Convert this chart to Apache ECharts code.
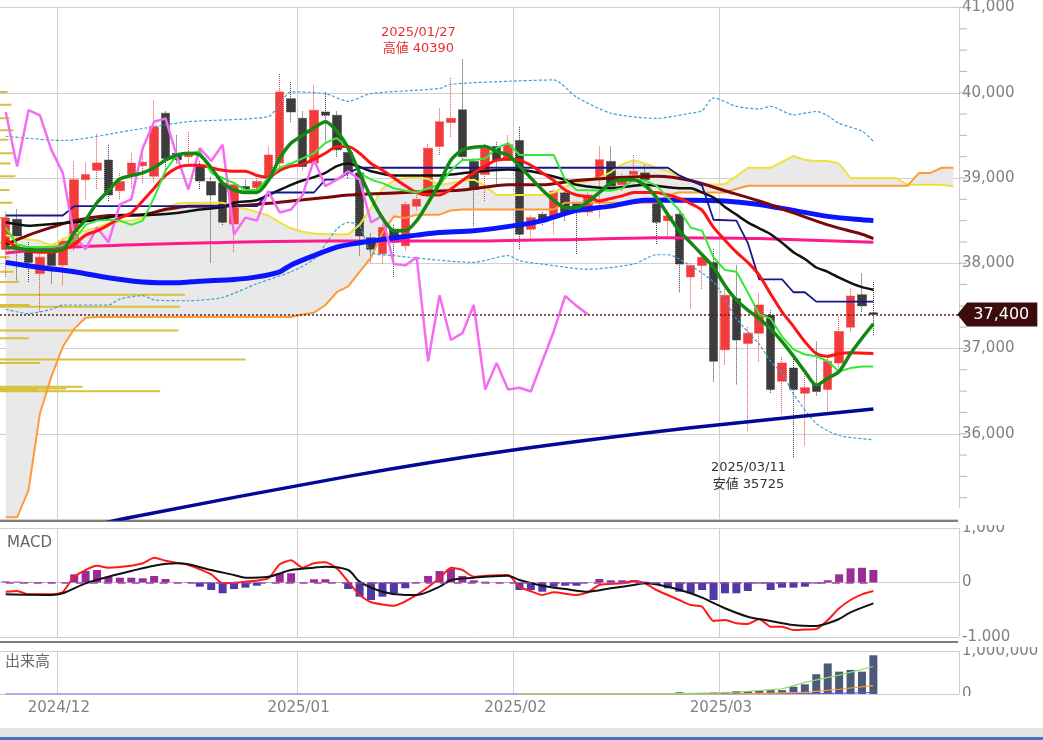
<!DOCTYPE html>
<html><head><meta charset="utf-8">
<script src="https://cdn.jsdelivr.net/npm/echarts@6/dist/echarts.min.js"></script>
<style>html,body{margin:0;padding:0;background:#fff;overflow:hidden}#c{width:1043px;height:740px}</style>
</head><body><div id="c"></div>
<script>
// ---------- categories ----------
const dates = ["2024/11/25","2024/11/26","2024/11/27","2024/11/28","2024/11/29",
"2024/12/02","2024/12/03","2024/12/04","2024/12/05","2024/12/06","2024/12/09","2024/12/10","2024/12/11","2024/12/12","2024/12/13","2024/12/16","2024/12/17","2024/12/18","2024/12/19","2024/12/20","2024/12/23","2024/12/24","2024/12/25","2024/12/26","2024/12/27","2024/12/30",
"2025/01/06","2025/01/07","2025/01/08","2025/01/09","2025/01/10","2025/01/14","2025/01/15","2025/01/16","2025/01/17","2025/01/20","2025/01/21","2025/01/22","2025/01/23","2025/01/24","2025/01/27","2025/01/28","2025/01/29","2025/01/30","2025/01/31",
"2025/02/03","2025/02/04","2025/02/05","2025/02/06","2025/02/07","2025/02/10","2025/02/12","2025/02/13","2025/02/14","2025/02/17","2025/02/18","2025/02/19","2025/02/20","2025/02/21","2025/02/25","2025/02/26","2025/02/27","2025/02/28",
"2025/03/03","2025/03/04","2025/03/05","2025/03/06","2025/03/07","2025/03/10","2025/03/11","2025/03/12","2025/03/13","2025/03/14","2025/03/17","2025/03/18","2025/03/19","2025/03/21",
"2025/03/24","2025/03/25","2025/03/26","2025/03/27","2025/03/28","2025/03/31","2025/04/01"];
const monthStarts = [5, 26, 45, 63];
// fine price-scale tick marks (every 250)
const priceTicks = [35000,35250,35500,35750,36000,36250,36500,36750,37000,37250,37500,37750,38000,38250,38500,38750,39000,39250,39500,39750,40000,40250,40500,40750,41000];

// ---------- candles ----------
const opens  = [38160,38515,38170,37880,38150,37980,38220,38980,39090,39210,38850,39040,39145,39020,39760,39290,39250,39140,38960,38940,38460,38900,38885,39000,39175,39930,39700,39175,39775,39735,39300,39060,38300,38110,38400,38205,38670,38805,39370,39650,39800,39195,39040,39370,39230,39440,38400,38575,38555,38825,38700,38600,38980,39195,38920,39040,39060,38710,38500,38575,37840,37975,38010,36985,37585,37060,37180,37390,36615,36770,36475,36580,36520,36830,37250,37630,37420];
const closes = [38530,38320,38010,38070,37975,38260,38980,39040,39175,38800,38960,39175,39185,39600,39230,39215,39290,38965,38800,38480,38920,38870,38960,39270,40010,39775,39135,39795,39735,39330,39060,38320,38165,38420,38245,38690,38750,39350,39660,39700,39250,38865,39350,39200,39390,38340,38535,38500,38845,38595,38630,38800,39215,38905,38980,39080,38980,38480,38555,37990,37975,38070,36850,37625,37100,37180,37510,36520,36830,36520,36540,36495,36850,37200,37615,37500,37400];
const lows   = [37840,37800,37780,37430,37760,37740,38150,38750,38870,38730,38750,38880,38940,38950,39080,39170,39180,38870,38010,38450,38130,38820,38850,38980,39120,39660,39100,39150,39405,39250,39000,38090,38010,38000,37840,38150,38620,38780,39270,39485,39200,38440,38730,38900,39200,38165,38265,38450,38340,38500,38110,38560,38535,38850,38850,38900,38900,38225,38300,37660,37470,37700,36615,36810,36580,36035,36850,36480,36230,35725,35860,36450,36270,36780,37200,37430,37160];
const highs  = [38600,38630,38250,38150,38200,38300,39190,39180,39520,39390,39060,39290,39270,39910,39780,39500,39540,39200,39010,38980,38960,38980,39000,39370,40220,40125,39780,40085,40010,39780,39350,39100,38350,38450,38450,38720,38800,39400,39815,40175,40390,39230,39400,39420,39500,39600,38560,38600,38870,38860,38720,38830,39370,39370,39050,39270,39150,38750,38600,38620,38000,38100,38165,37700,37975,37250,37645,37450,36900,36900,36700,37080,36900,37370,37700,37880,37780];

// ---------- price indicators: [category index, value] ----------
const bbUpper = [[0,39490],[5,39440],[11,39560],[16,39660],[23,39720],[24,39870],[25,40010],[28,39990],[30,39900],[32,39990],[38,40050],[39,40100],[45,40140],[48,40150],[50,39950],[53,39760],[57,39700],[60,39760],[61,39790],[62,39940],[64,39840],[66,39810],[67,39840],[69,39740],[71,39780],[72,39730],[73,39640],[75,39550],[76,39430]];
const bbLower = [[0,37460],[2,37410],[4,37460],[5,37510],[9,37510],[10,37580],[12,37620],[13,37570],[16,37560],[19,37600],[22,37760],[25,37900],[27,38050],[29,38400],[30,38480],[31,38440],[32,38130],[34,38090],[36,38060],[41,38010],[44,38090],[45,38030],[47,37990],[51,37930],[55,37990],[57,38100],[58,38100],[59,38050],[62,37780],[64,37350],[66,37050],[67,36850],[68,36710],[69,36470],[71,36120],[73,35980],[76,35930]];
const ma5 = [[0,38190],[2,38160],[4,38150],[5,38160],[6,38360],[7,38510],[8,38710],[9,38850],[10,38990],[12,39060],[13,39120],[14,39210],[15,39270],[16,39290],[17,39270],[18,39120],[19,38940],[20,38860],[21,38830],[22,38830],[23,38970],[24,39230],[25,39410],[26,39500],[27,39590],[28,39660],[29,39550],[30,39350],[31,39060],[32,38770],[33,38530],[34,38380],[35,38380],[36,38500],[37,38710],[38,38940],[39,39210],[40,39330],[41,39360],[42,39370],[43,39310],[44,39270],[45,39140],[46,39000],[47,38860],[48,38740],[49,38650],[50,38650],[51,38720],[52,38830],[53,38940],[54,38980],[55,38980],[56,38910],[57,38770],[58,38570],[59,38380],[60,38240],[61,38100],[62,37950],[63,37740],[64,37570],[65,37450],[66,37350],[67,37230],[68,37080],[69,36910],[70,36730],[71,36570],[72,36650],[73,36730],[74,36940],[75,37120],[76,37290]];
const tenkan = [[0,38420],[1,38220],[2,38190],[4,38190],[5,38210],[6,38270],[7,38450],[8,38500],[9,38510],[10,38500],[11,38450],[12,38500],[13,38770],[14,39090],[15,39270],[16,39290],[17,39310],[18,39060],[19,39000],[20,38940],[21,38860],[22,38860],[23,39000],[24,39120],[25,39170],[26,39230],[27,39290],[28,39410],[29,39470],[30,39350],[31,39060],[32,38980],[33,38940],[34,38880],[35,38850],[36,38830],[37,38880],[38,38920],[39,39090],[40,39210],[41,39210],[42,39230],[43,39350],[44,39410],[45,39270],[48,39270],[49,38980],[50,38860],[53,38850],[54,38880],[55,38980],[56,38970],[57,38910],[58,38770],[59,38620],[60,38420],[61,38380],[62,38070],[63,37920],[64,37900],[65,37660],[66,37400],[67,37350],[68,37140],[69,36990],[70,36930],[71,36910],[72,36850],[73,36730],[74,36770],[75,36790],[76,36790]];
const maRed = [[0,38280],[1,38190],[3,38130],[4,38130],[5,38160],[6,38220],[7,38330],[8,38380],[9,38450],[10,38530],[11,38590],[12,38730],[13,38880],[14,39030],[15,39120],[16,39150],[17,39150],[18,39120],[19,39090],[20,39080],[21,39080],[22,39030],[23,39010],[24,39090],[25,39140],[26,39160],[27,39220],[28,39290],[29,39370],[30,39370],[31,39290],[32,39170],[33,39090],[34,39000],[35,38910],[36,38830],[37,38800],[38,38800],[39,38870],[40,38970],[41,39060],[42,39140],[43,39210],[44,39220],[45,39210],[46,39150],[47,39060],[48,38970],[49,38860],[50,38800],[51,38780],[52,38730],[53,38760],[54,38790],[55,38830],[57,38830],[58,38800],[59,38760],[60,38700],[61,38620],[62,38420],[63,38270],[64,38130],[65,38010],[66,37860],[67,37640],[68,37430],[69,37260],[70,37080],[71,36940],[72,36910],[73,36940],[74,36950],[76,36940]];
const maBlack = [[0,38480],[2,38440],[3,38450],[6,38480],[8,38510],[10,38560],[13,38570],[15,38590],[17,38630],[19,38660],[20,38710],[22,38740],[23,38800],[24,38860],[25,38920],[26,38970],[27,39010],[28,39060],[29,39140],[30,39170],[31,39130],[32,39080],[34,39030],[38,39030],[41,39070],[44,39100],[46,39080],[49,38980],[50,38920],[53,38880],[56,38920],[59,38880],[60,38880],[61,38830],[62,38770],[63,38660],[64,38570],[65,38480],[66,38410],[67,38340],[68,38240],[69,38130],[70,38050],[71,37950],[72,37900],[73,37830],[74,37770],[75,37720],[76,37690]];
const kijun = [[0,38560],[5,38560],[6,38670],[22,38670],[23,38830],[27,38830],[28,38980],[29,38980],[30,39060],[31,39120],[58,39120],[59,39030],[60,38970],[61,38910],[62,38510],[64,38500],[65,38240],[66,37810],[68,37810],[69,37660],[70,37660],[71,37550],[76,37550]];
const maMaroon = [[0,38220],[2,38330],[4,38420],[6,38500],[9,38560],[12,38570],[14,38630],[16,38670],[19,38670],[22,38690],[25,38730],[28,38770],[30,38800],[35,38830],[40,38860],[44,38920],[47,38920],[50,38970],[53,39000],[57,39020],[60,38970],[63,38850],[66,38730],[69,38590],[72,38450],[75,38340],[76,38290]];
const maBlue = [[0,38010],[3,37950],[6,37900],[9,37830],[12,37780],[15,37770],[17,37790],[20,37810],[22,37840],[24,37900],[25,37980],[27,38090],[29,38190],[31,38240],[33,38280],[36,38330],[38,38360],[41,38380],[45,38450],[47,38500],[50,38620],[53,38670],[56,38740],[60,38740],[63,38730],[66,38690],[69,38620],[72,38550],[75,38510],[76,38500]];
const maPink = [[0,38120],[6,38190],[12,38220],[18,38240],[28,38260],[40,38260],[50,38280],[57,38300],[66,38290],[76,38245]];
const maLong = [[0,34700],[11,35020],[30,35500],[44,35800],[60,36070],[76,36290]];
const chikou = [39775,39135,39795,39735,39330,39060,38320,38165,38420,38245,38690,38750,39350,39660,39700,39250,38865,39350,39200,39390,38340,38535,38500,38845,38595,38630,38800,39215,38905,38980,39080,38980,38480,38555,37990,37975,38070,36850,37625,37100,37180,37510,36520,36830,36520,36540,36495,36850,37200,37615,37500,37400];
// Ichimoku leading spans (every category, incl. 7 future days)
const spanA = [38330,38300,38280,38260,38210,38280,38350,38380,38420,38470,38490,38500,38530,38590,38650,38700,38710,38710,38710,38710,38670,38640,38600,38560,38480,38410,38370,38350,38340,38340,38340,38450,38650,38880,38970,39000,39000,38990,38920,38940,38970,38980,38910,38800,38800,38800,38800,38800,38830,38900,38940,38970,39000,39070,39160,39210,39170,39120,39080,39010,38980,38930,38920,38930,39020,39120,39120,39120,39190,39260,39210,39200,39200,39170,39000,39000,39000,39000,39000,38920,38920,38920,38920,38900];
const spanB = [35020,35020,35340,36240,36670,37020,37230,37360,37370,37370,37370,37370,37370,37370,37370,37370,37370,37370,37370,37370,37370,37370,37370,37370,37370,37370,37400,37420,37510,37660,37730,37900,38070,38360,38550,38530,38570,38570,38570,38620,38630,38630,38630,38630,38630,38630,38630,38630,38630,38710,38710,38710,38710,38710,38710,38710,38710,38710,38800,38830,38830,38830,38830,38830,38870,38910,38910,38910,38910,38910,38910,38910,38910,38910,38910,38910,38910,38910,38910,38910,39060,39060,39120,39120];
// volume-by-price profile (relative units)
const profilePrices  = [40010,39860,39700,39560,39450,39290,39170,39020,38860,38710,38530,38240,38070,37900,37780,37630,37510,37490,37210,37120,36870,36830,36550,36530,36515,36500];
const profileVolumes = [8,12,10,14,9,15,11,16,10,13,9,12,10,14,20,193,31,188,186,30,256,42,86,69,39,167];
const lastPrice = 37400;

// ---------- MACD ----------
const macdHist = [20,15,10,-10,-10,5,150,210,230,106,88,88,77,120,64,5,-10,-77,-138,-198,-120,-95,-59,5,169,169,5,59,59,5,-120,-260,-321,-260,-198,-106,5,120,210,248,120,40,15,5,5,-138,-138,-169,-77,-59,-59,-5,64,40,40,40,15,-46,-106,-169,-198,-138,-321,-198,-198,-156,-20,-138,-95,-95,-77,-20,40,150,260,270,229];
const macdLine = [[0,-169],[1,-156],[2,-217],[4,-217],[5,-174],[6,106],[8,308],[9,272],[11,308],[12,352],[13,455],[14,400],[16,321],[18,150],[19,-15],[21,15],[23,77],[24,334],[25,407],[26,272],[27,352],[28,371],[29,261],[30,15],[31,-229],[32,-363],[34,-426],[36,-229],[38,77],[39,272],[40,229],[41,106],[42,125],[44,138],[45,-80],[46,-160],[47,-229],[48,-180],[50,-229],[51,-180],[52,-46],[54,-15],[55,28],[56,-15],[57,-138],[59,-321],[60,-413],[61,-444],[62,-706],[63,-688],[64,-749],[65,-762],[66,-670],[67,-811],[68,-811],[69,-872],[70,-862],[71,-853],[72,-690],[73,-473],[74,-321],[75,-217],[76,-156]];
const macdSignal = [[0,-217],[4,-229],[5,-198],[7,-15],[9,106],[11,211],[13,308],[15,352],[16,334],[18,229],[20,138],[21,88],[23,106],[25,229],[27,272],[28,290],[30,229],[31,15],[33,-169],[35,-229],[36,-229],[38,-77],[39,46],[41,88],[42,106],[44,125],[45,46],[47,-59],[49,-119],[51,-169],[53,-106],[55,-46],[56,-15],[58,-77],[60,-198],[61,-279],[63,-473],[65,-628],[67,-706],[69,-780],[71,-798],[72,-749],[73,-670],[74,-547],[76,-382]];

// ---------- volume ----------
const volume = [0,0,0,0,0,0,0,0,0,0,0,0,0,0,0,0,0,0,0,0,0,0,0,0,0,0,0,0,0,0,0,0,0,0,0,0,0,0,0,0,0,0,0,0,0,0,0,0,0,0,0,0,0,0,0,0,0,0,0,40000,15000,20000,35000,40000,70000,70000,70000,90000,90000,170000,225000,460000,710000,520000,560000,520000,900000];
const volMaGreen = [[45,0],[58,5000],[59,10000],[63,30000],[65,60000],[68,120000],[70,270000],[73,440000],[76,640000]];
const volMaOrange = [[45,0],[64,5000],[70,40000],[73,110000],[76,195000]];
const volMaBlue = [[0,0],[66,3000],[72,15000],[76,35000]];

// ---------- build ----------
const FONT = "'DejaVu Sans','Noto Sans CJK JP',sans-serif";
const candleData = opens.map((o, i) => [o, closes[i], lows[i], highs[i]]);
const cloudLow = spanA.map((a, i) => Math.min(a, spanB[i]));
const cloudGap = spanA.map((a, i) => Math.abs(a - spanB[i]));
const chikouData = chikou.map((v, i) => [i, v]);
const isMonthStart = (idx) => monthStarts.indexOf(idx) >= 0;
const splitLineCfg = { show: true, interval: (idx) => isMonthStart(idx), lineStyle: { color: '#cfcfcf', width: 1 } };
const lastIdx = closes.length - 1;
const lastCat = dates.length - 1;

function catAxis(grid, extra) {
  return Object.assign({
    type: 'category', gridIndex: grid, data: dates, boundaryGap: true,
    axisTick: { show: false }, axisLabel: { show: false },
    splitLine: splitLineCfg
  }, extra);
}
function ln(name, data, color, width, z, extra) {
  return Object.assign({
    name, type: 'line', data, xAxisIndex: 0, yAxisIndex: 0,
    symbol: 'none', showSymbol: false, silent: true, z: z,
    lineStyle: { color, width }, smooth: 0.25
  }, extra || {});
}
const axisLabelStyle = { color: '#808080', fontSize: 15, fontFamily: FONT, margin: 3 };

const option = {
  animation: false,
  backgroundColor: '#ffffff',
  textStyle: { fontFamily: FONT },
  title: [
    { text: 'MACD', left: 2, top: 531, textStyle: { fontSize: 15, color: '#666', fontWeight: 'normal', fontFamily: FONT } },
    { text: '出来高', left: 0, top: 650, textStyle: { fontSize: 15, color: '#666', fontWeight: 'normal', fontFamily: FONT } }
  ],
  grid: [
    { left: -3, right: 84, top: 3, height: 516 },
    { left: -3, right: 84, top: 528, height: 109 },
    { left: -3, right: 84, top: 651, height: 43 }
  ],
  xAxis: [
    catAxis(0, { axisLine: { show: true, onZero: false, lineStyle: { color: '#555', width: 1.5 } }, offset: 2 }),
    { type: 'value', gridIndex: 0, min: 0, max: 1000, show: false },
    catAxis(1, { axisLine: { show: true, onZero: false, lineStyle: { color: '#555', width: 1.5 } }, offset: 5 }),
    catAxis(2, {
      axisLine: { show: true, onZero: false, lineStyle: { color: '#cccccc', width: 1 } },
      axisLabel: { show: true, interval: (idx) => isMonthStart(idx), formatter: (v) => v.slice(0, 7),
        color: '#808080', fontSize: 15, fontFamily: FONT, margin: 7, padding: [0, 8, 0, 0] }
    })
  ],
  yAxis: [
    { type: 'value', gridIndex: 0, position: 'right', min: 35000, max: 41000, interval: 1000,
      axisLine: { show: false }, axisTick: { show: false },
      axisLabel: Object.assign({}, axisLabelStyle, { formatter: (v) => v === 35000 ? '' : v.toLocaleString('en-US') }),
      splitLine: { show: true, lineStyle: { color: '#cfcfcf' } } },
    { type: 'value', gridIndex: 1, position: 'right', min: -1000, max: 1000, interval: 1000,
      axisLine: { show: false }, axisTick: { show: false },
      axisLabel: Object.assign({}, axisLabelStyle, { formatter: (v) => v.toLocaleString('en-US') }),
      splitLine: { show: true, lineStyle: { color: '#cfcfcf' } } },
    { type: 'value', gridIndex: 2, position: 'right', min: 0, max: 1000000, interval: 1000000,
      axisLine: { show: false }, axisTick: { show: false },
      axisLabel: Object.assign({}, axisLabelStyle, { formatter: (v) => v.toLocaleString('en-US') }),
      splitLine: { show: true, lineStyle: { color: '#cfcfcf' } } }
  ],
  series: [
    // cloud fill
    { type: 'line', data: cloudLow, stack: 'cloud', symbol: 'none', silent: true, z: 1, lineStyle: { opacity: 0 } },
    { type: 'line', data: cloudGap, stack: 'cloud', symbol: 'none', silent: true, z: 1, lineStyle: { opacity: 0 },
      areaStyle: { color: '#e9e9e9', opacity: 1 } },
    // volume profile
    { type: 'custom', xAxisIndex: 1, yAxisIndex: 0, z: 2, silent: true, clip: true,
      data: profilePrices.map((p, i) => [profileVolumes[i], p]),
      encode: { x: 0, y: 1 },
      renderItem: (params, api) => {
        const a = api.coord([0, api.value(1)]);
        const b = api.coord([api.value(0), api.value(1)]);
        return { type: 'rect', shape: { x: a[0], y: b[1] - 1, width: b[0] - a[0], height: 2 },
          style: { fill: '#d7c03c' } };
      } },
    // fine tick marks just right of the price plot (anchored on the last category band edge)
    { type: 'custom', xAxisIndex: 0, yAxisIndex: 0, z: 2, silent: true, clip: false,
      data: priceTicks.map((v) => [lastCat, v]),
      encode: { x: 0, y: 1 },
      renderItem: (params, api) => {
        const p = api.coord([api.value(0), api.value(1)]);
        const half = api.size([1, 0])[0] / 2;
        const x0 = p[0] + half;
        return { type: 'line', shape: { x1: x0, y1: p[1], x2: x0 + 8, y2: p[1] },
          style: { stroke: '#b8b8b8', lineWidth: 1 } };
      } },
    // candles
    { type: 'candlestick', xAxisIndex: 0, yAxisIndex: 0, data: candleData, barWidth: 9, z: 3, silent: true,
      itemStyle: { color: '#f23c3c', color0: '#3c3c3c', borderColor: '#f23c3c', borderColor0: '#3c3c3c',
        borderWidth: 1, borderType: 'dotted' },
      markPoint: { symbol: 'circle', symbolSize: 1, itemStyle: { color: 'rgba(0,0,0,0)' }, silent: true,
        data: [
          { coord: [dates[40], 40390], label: { show: true, position: 'inside', offset: [-44, -19],
              formatter: '2025/01/27\n高値 40390', color: '#e8302f', fontSize: 13, lineHeight: 16, fontFamily: FONT } },
          { coord: [dates[69], 35725], label: { show: true, position: 'inside', offset: [-45, 19],
              formatter: '2025/03/11\n安値 35725', color: '#333', fontSize: 13, lineHeight: 17, fontFamily: FONT } }
        ] } },
    ln('spanA', spanA, '#ede23a', 2, 4, { smooth: false }),
    ln('spanB', spanB, '#ff9a38', 2, 4, { smooth: false }),
    ln('bbUpper', bbUpper, '#3d9fd6', 1.2, 4, { lineStyle: { color: '#3d9fd6', width: 1.2, type: [3, 2] } }),
    ln('bbLower', bbLower, '#3d9fd6', 1.2, 4, { lineStyle: { color: '#3d9fd6', width: 1.2, type: [3, 2] } }),
    ln('maLong', maLong, '#000a96', 3.5, 4),
    ln('maPink', maPink, '#ff1a8c', 3, 4),
    ln('maBlue', maBlue, '#0a14ff', 5, 4),
    ln('maMaroon', maMaroon, '#7a0808', 3, 5),
    ln('maBlack', maBlack, '#111111', 2.5, 5),
    ln('kijun', kijun, '#16168f', 1.8, 5, { smooth: false }),
    ln('chikou', chikouData, '#f56cf2', 2.5, 5, { smooth: false }),
    ln('maRed', maRed, '#ff1414', 3, 6),
    ln('tenkan', tenkan, '#36e836', 2, 6, { smooth: false }),
    ln('ma5', ma5, '#128a12', 3.5, 7, {
      markLine: { silent: true, symbol: ['none', 'none'], label: { show: false },
        lineStyle: { color: '#5a1f1f', width: 1.5, type: [2, 2] }, data: [{ yAxis: lastPrice }] },
      markPoint: { silent: true, data: [{
        coord: [dates[lastCat], lastPrice],
        symbol: 'path://M0,12 L11,0 L90,0 L90,24 L11,24 Z', symbolSize: [80, 24], symbolKeepAspect: false,
        symbolOffset: [44, 0], itemStyle: { color: '#3a0c0c' },
        label: { show: true, position: 'inside', offset: [4, 0], formatter: '37,400', color: '#fff', fontSize: 16, fontFamily: FONT }
      }] } }),
    // MACD
    { type: 'bar', xAxisIndex: 2, yAxisIndex: 1, data: macdHist, barWidth: 8, silent: true,
      itemStyle: { color: (p) => p.value >= 0 ? '#982c98' : '#4f38a8' },
      markLine: { silent: true, symbol: ['none', 'none'], label: { show: false },
        lineStyle: { color: '#a040a0', width: 1.5, type: [8, 6] },
        data: [[{ coord: [dates[0], 0] }, { coord: [dates[lastIdx], 0] }]] } },
    { type: 'line', xAxisIndex: 2, yAxisIndex: 1, data: macdLine, symbol: 'none', silent: true, smooth: 0.2,
      lineStyle: { color: '#ff1a1a', width: 2 } },
    { type: 'line', xAxisIndex: 2, yAxisIndex: 1, data: macdSignal, symbol: 'none', silent: true, smooth: 0.3,
      lineStyle: { color: '#111', width: 2 } },
    // Volume
    { type: 'bar', xAxisIndex: 3, yAxisIndex: 2, data: volume, barWidth: 8, silent: true,
      itemStyle: { color: '#4b5a78' } },
    { type: 'line', xAxisIndex: 3, yAxisIndex: 2, data: volMaBlue, symbol: 'none', silent: true,
      lineStyle: { color: '#5a5aee', width: 1.2 } },
    { type: 'line', xAxisIndex: 3, yAxisIndex: 2, data: volMaOrange, symbol: 'none', silent: true,
      lineStyle: { color: '#ff9a40', width: 1.2 } },
    { type: 'line', xAxisIndex: 3, yAxisIndex: 2, data: volMaGreen, symbol: 'none', silent: true,
      lineStyle: { color: '#8fdc6a', width: 1.2 } }
  ],
  graphic: [
    { type: 'rect', z: 100, silent: true, shape: { x: 958, y: 508, width: 85, height: 17 }, style: { fill: '#fff' } },
    { type: 'rect', z: 100, silent: true, shape: { x: 958, y: 641, width: 85, height: 6 }, style: { fill: '#fff' } },
    { type: 'rect', z: 100, silent: true, shape: { x: 958, y: 696, width: 85, height: 10 }, style: { fill: '#fff' } },
    { type: 'rect', z: 100, silent: true, shape: { x: 0, y: 728, width: 1043, height: 9 }, style: { fill: '#e4e4e4' } },
    { type: 'rect', z: 100, silent: true, shape: { x: 0, y: 737, width: 1043, height: 3 }, style: { fill: '#4a70cc' } }
  ]
};
const chart = echarts.init(document.getElementById('c'), null, { renderer: 'canvas' });
chart.setOption(option);
</script>
</body></html>
